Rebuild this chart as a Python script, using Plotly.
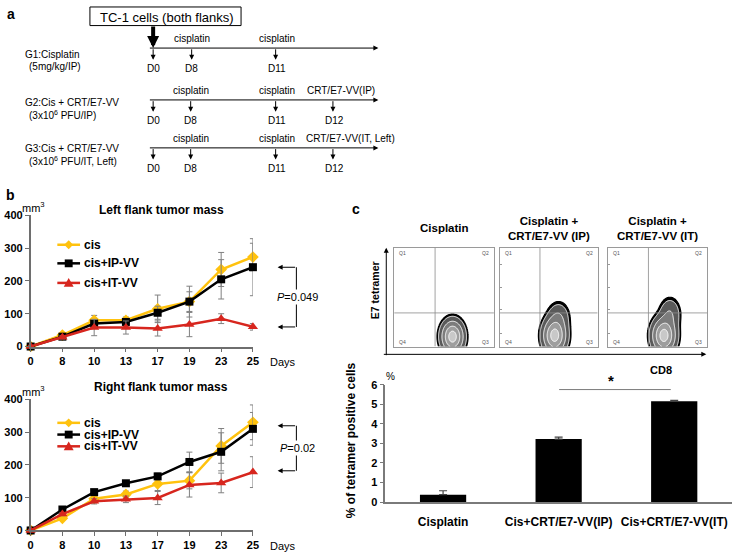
import numpy as np
import plotly.graph_objects as go

W, H = 738, 558
FONT = "Liberation Sans, Arial, sans-serif"

# ---------------- data ----------------
days = ["0", "8", "10", "13", "17", "19", "23", "25"]
series_names = ["cis", "cis+IP-VV", "cis+IT-VV"]
series_colors = ["#FFC20E", "#000000", "#D7261E"]
series_symbols = ["diamond", "square", "triangle-up"]

cis_left = [0, 35, 80, 80, 115, 137, 235, 273]
ip_left = [0, 30, 70, 75, 103, 137, 205, 242]
it_left = [0, 28, 58, 58, 55, 67, 85, 60]
cis_left_err = [0, 5, 15, 10, 42, 30, 52, 42]
ip_left_err = [0, 5, 10, 10, 20, 47, 60, 87]
it_left_err = [0, 5, 25, 20, 23, 37, 15, 10]

cis_right = [0, 37, 97, 110, 142, 152, 258, 330]
ip_right = [0, 64, 117, 144, 165, 209, 240, 310]
it_right = [0, 50, 89, 95, 99, 139, 145, 178]
cis_right_err = [0, 5, 8, 10, 20, 25, 53, 53]
ip_right_err = [0, 5, 8, 8, 10, 30, 58, 50]
it_right_err = [0, 5, 8, 10, 20, 37, 30, 47]

bar_cats = ["Cisplatin", "Cis+CRT/E7-VV(IP)", "Cis+CRT/E7-VV(IT)"]
bar_vals = [0.38, 3.22, 5.15]
bar_err = [0.2, 0.1, 0.05]

flow_titles = ["Cisplatin", "Cisplatin +<br>CRT/E7-VV (IP)", "Cisplatin +<br>CRT/E7-VV (IT)"]
# blob parameters per panel: main (cx, cy, sx, sy), tail (cx, cy, sx, sy, amp)
flow_main = [(0.585, 0.10, 0.06, 0.088), (0.56, 0.11, 0.064, 0.095), (0.565, 0.11, 0.064, 0.095)]
flow_tail = [(0.6, 0.2, 0.05, 0.05, 0.0), (0.60, 0.30, 0.062, 0.085, 0.18), (0.625, 0.33, 0.058, 0.09, 0.2)]
gate_x, gate_y = 0.41, 0.34

# ---------------- helpers ----------------
def X(px):
    return px / W

def Y(py):
    return 1 - py / H

annotations = []
shapes = []

def text(px, py, s, size=10, bold=False, xanchor="center", yanchor="middle", angle=0, color="#000", bg=None):
    d = dict(x=X(px), y=Y(py), xref="paper", yref="paper", text=s, showarrow=False,
             xanchor=xanchor, yanchor=yanchor, textangle=angle,
             font=dict(family=FONT, size=size, color=color, weight=700 if bold else 400))
    if bg:
        d["bgcolor"] = bg
    annotations.append(d)

def arrow(x0, y0, x1, y1, width=1, head=2, size=1.0, color="#000"):
    # arrow from (x0,y0) tail to (x1,y1) head, in pixels
    annotations.append(dict(x=X(x1), y=Y(y1), xref="paper", yref="paper", text="",
                            showarrow=True, ax=x0 - x1, ay=y0 - y1, axref="pixel", ayref="pixel",
                            arrowhead=head, arrowsize=size, arrowwidth=width, arrowcolor=color,
                            standoff=0, startstandoff=0))

def line(x0, y0, x1, y1, color="#000", width=1):
    shapes.append(dict(type="line", xref="paper", yref="paper", x0=X(x0), y0=Y(y0), x1=X(x1), y1=Y(y1),
                       line=dict(color=color, width=width)))

# ---------------- panel a ----------------
text(8, 8, "a", size=14, bold=True)
shapes.append(dict(type="rect", xref="paper", yref="paper", x0=X(88), y0=Y(20), x1=X(241), y1=Y(1),
                   line=dict(color="#000", width=1), fillcolor="white"))
text(166, 12, "TC-1 cells (both flanks)", size=13)
arrow(152, 20, 152, 43, width=4, head=2, size=0.6)

rows = [
    dict(y=43, label1="G1:Cisplatin", label2="(5mg/kg/IP)", marks=[152, 191, 276],
         above=[(191, "cisplatin"), (277, "cisplatin")], dl=[(152, "D0"), (191, "D8"), (277, "D11")], ly=50),
    dict(y=96, label1="G2:Cis + CRT/E7-VV", label2="(3x10<sup>6</sup> PFU/IP)", marks=[152, 190, 276, 334],
         above=[(190, "cisplatin"), (277, "cisplatin"), (342, "CRT/E7-VV(IP)")],
         dl=[(152, "D0"), (190, "D8"), (277, "D11"), (336, "D12")], ly=99),
    dict(y=145, label1="G3:Cis + CRT/E7-VV", label2="(3x10<sup>6</sup> PFU/IT, Left)", marks=[152, 190, 276, 334],
         above=[(190, "cisplatin"), (277, "cisplatin"), (352, "CRT/E7-VV(IT, Left)")],
         dl=[(152, "D0"), (190, "D8"), (277, "D11"), (336, "D12")], ly=146),
]
for r in rows:
    y0 = r["y"]
    arrow(150, y0, 380, y0, width=1, head=2, size=1.0)
    for mx in r["marks"]:
        arrow(mx, y0, mx, y0 + 12, width=1, head=2, size=1.0)
    for ax_, s in r["above"]:
        text(ax_, y0 - 10, s, size=10)
    for dx, s in r["dl"]:
        text(dx, y0 + 21, s, size=10)
    text(20, r["ly"], r["label1"], size=10, xanchor="left")
    text(24, r["ly"] + 12, r["label2"], size=10, xanchor="left")

# ---------------- panel b ----------------
text(8, 193, "b", size=14, bold=True)

fig = go.Figure()

line_panels = [
    dict(xa="x", ya="y", ytop=214, ybot=348, title="Left flank tumor mass", ty=208,
         vals=[cis_left, ip_left, it_left], errs=[cis_left_err, ip_left_err, it_left_err],
         leg_y=[244, 263, 283], p=("0.049", 267, 328)),
    dict(xa="x2", ya="y2", ytop=402, ybot=536, title="Right flank tumor mass", ty=389,
         vals=[cis_right, ip_right, it_right], errs=[cis_right_err, ip_right_err, it_right_err],
         leg_y=[426, 438, 450], p=("0.02", 429, 475)),
]
xidx = list(range(len(days)))
for pnl in line_panels:
    for name, col, sym, v, e in zip(series_names, series_colors, series_symbols, pnl["vals"], pnl["errs"]):
        fig.add_trace(go.Scatter(
            x=xidx, y=v, xaxis=pnl["xa"], yaxis=pnl["ya"], mode="lines+markers", name=name,
            line=dict(color=col, width=2.5),
            marker=dict(symbol=sym, size=9 if sym != "square" else 8, color=col),
            error_y=dict(type="data", array=e, color="#808080", thickness=1, width=3),
            cliponaxis=False, showlegend=False, hoverinfo="skip"))
    text(160, pnl["ty"], pnl["title"], size=12, bold=True)
    text(31, pnl["ytop"] - 9, "mm<sup>3</sup>", size=11)
    text(268, pnl["ybot"] + 16, "Days", size=11, xanchor="left")
    # manual legend
    for name, col, sym, ly in zip(series_names, series_colors, series_symbols, pnl["leg_y"]):
        line(55, ly, 78, ly, color=col, width=2.5)
        cx = 66.5
        if sym == "square":
            shapes.append(dict(type="rect", xref="paper", yref="paper", x0=X(cx - 4), x1=X(cx + 4),
                               y0=Y(ly + 4), y1=Y(ly - 4), fillcolor=col, line=dict(width=0)))
        elif sym == "diamond":
            path = f"M {X(cx)} {Y(ly-4.5)} L {X(cx+4.5)} {Y(ly)} L {X(cx)} {Y(ly+4.5)} L {X(cx-4.5)} {Y(ly)} Z"
            shapes.append(dict(type="path", xref="paper", yref="paper", path=path, fillcolor=col, line=dict(width=0)))
        else:
            path = f"M {X(cx)} {Y(ly-5)} L {X(cx+5)} {Y(ly+4)} L {X(cx-5)} {Y(ly+4)} Z"
            shapes.append(dict(type="path", xref="paper", yref="paper", path=path, fillcolor=col, line=dict(width=0)))
        text(80, ly, name, size=12, bold=True, xanchor="left")
    # p-value bracket
    pv, ya, yb = pnl["p"]
    line(297, ya, 297, yb, color="#000", width=1)
    arrow(297, ya, 278, ya, width=1, head=2, size=1.0)
    arrow(297, yb, 278, yb, width=1, head=2, size=1.0)
    text(298, (ya + yb) / 2, f"<i>P</i>=" + pv, size=11, bg="white")

axis_common = dict(showline=True, linecolor="#6e6e6e", linewidth=1.5, ticks="outside", ticklen=4,
                   tickcolor="#6e6e6e", showgrid=False, zeroline=False,
                   tickfont=dict(family=FONT, size=11, color="#000", weight=700))
for i, pnl in enumerate(line_panels):
    xk = "xaxis" if i == 0 else "xaxis2"
    yk = "yaxis" if i == 0 else "yaxis2"
    fig.layout[xk] = dict(axis_common, domain=[X(28), X(253)], range=[0, 7], tickvals=xidx, ticktext=days,
                          anchor=pnl["ya"], fixedrange=True)
    fig.layout[yk] = dict(axis_common, domain=[Y(pnl["ybot"]), Y(pnl["ytop"])], range=[0, 400],
                          tickvals=[0, 100, 200, 300, 400], anchor=pnl["xa"], fixedrange=True)

# ---------------- panel c ----------------
text(357, 207, "c", size=14, bold=True)

flow_boxes = [(396, 497), (503, 602), (612, 713)]
fy_top, fy_bot = 247, 348
gx = np.linspace(0, 1, 201)
gy = np.linspace(0, 1, 201)
GX, GY = np.meshgrid(gx, gy)
n_inner = 4
inner_step = 0.19
inner_cs = [[0, "rgba(255,255,255,0)"], [0.5 / n_inner, "rgba(255,255,255,0)"],
            [0.5 / n_inner + 0.001, "#5a5a5a"], [1 / n_inner, "#5a5a5a"], [2 / n_inner, "#7c7c7c"],
            [3 / n_inner, "#9e9e9e"], [1, "#c8c8c8"]]
for k, ((x0, x1), title) in enumerate(zip(flow_boxes, flow_titles)):
    xa = f"x{k+4}"
    ya = f"y{k+4}"
    cx, cy, sx, sy = flow_main[k]
    tx, ty, tsx, tsy, amp = flow_tail[k]
    Z = np.exp(-((GX - cx) ** 2 / (2 * sx ** 2) + (GY - cy) ** 2 / (2 * sy ** 2)))
    Z = Z + amp * np.exp(-((GX - tx) ** 2 / (2 * tsx ** 2) + (GY - ty) ** 2 / (2 * tsy ** 2)))
    Z = Z / Z.max()
    # density expressed as a radius-like level (evenly spaced contour rings)
    R = 1 - np.sqrt(2 * np.log(1 / np.clip(Z, 1e-9, 1))) / 3
    R = np.clip(R, 0, 1)
    # black outer population
    fig.add_trace(go.Contour(
        x=gx, y=gy, z=R, xaxis=xa, yaxis=ya, showscale=False, hoverinfo="skip",
        contours=dict(start=0.135, end=0.135, size=0.5, coloring="fill"),
        colorscale=[[0, "white"], [0.4, "white"], [0.6, "#000"], [1, "#000"]],
        line=dict(color="#000", width=1.2)))
    # graded inner contours
    fig.add_trace(go.Contour(
        x=gx, y=gy, z=R, xaxis=xa, yaxis=ya, showscale=False, hoverinfo="skip",
        contours=dict(start=0.22, end=0.22 + inner_step * (n_inner - 1), size=inner_step, coloring="fill"),
        colorscale=inner_cs,
        line=dict(color="white", width=1)))
    fig.layout[f"xaxis{k+4}"] = dict(domain=[X(x0), X(x1)], range=[0, 1], showline=True, mirror=True,
                                     linecolor="#9a9a9a", linewidth=1, showticklabels=False, ticks="",
                                     showgrid=False, zeroline=False, anchor=ya, fixedrange=True)
    yax = dict(domain=[Y(fy_bot), Y(fy_top)], range=[0, 1], showline=True, mirror=True,
               linecolor="#9a9a9a", linewidth=1, showticklabels=False,
               showgrid=False, zeroline=False, anchor=xa, fixedrange=True)
    if k > 0:
        yax.update(ticks="inside", ticklen=2, tickcolor="#999", tickvals=[0.13, 0.37, 0.6, 0.83])
    else:
        yax.update(ticks="")
    fig.layout[f"yaxis{k+4}"] = yax
    shapes.append(dict(type="line", xref=xa, yref=ya, x0=gate_x, x1=gate_x, y0=0, y1=1,
                       line=dict(color="#8c8c8c", width=0.8)))
    shapes.append(dict(type="line", xref=xa, yref=ya, x0=0, x1=1, y0=gate_y, y1=gate_y,
                       line=dict(color="#8c8c8c", width=0.8)))
    for qx, qy, q, xan in [(0.03, 0.95, "Q1", "left"), (0.97, 0.95, "Q2", "right"),
                           (0.03, 0.05, "Q4", "left"), (0.97, 0.05, "Q3", "right")]:
        annotations.append(dict(x=qx, y=qy, xref=f"{xa} domain", yref=f"{ya} domain", text=q,
                                showarrow=False, xanchor=xan, yanchor="middle",
                                font=dict(family=FONT, size=5, color="#555")))
    text((x0 + x1) / 2, 227, title, size=11.5, bold=True)

arrow(388, 356, 388, 247, width=1, head=2, size=1.0)
arrow(388, 356, 712, 356, width=1, head=2, size=1.0)
text(376, 290, "E7 tetramer", size=10.5, bold=True, angle=-90)
text(666, 372, "CD8", size=11, bold=True)

# bar chart
fig.add_trace(go.Bar(
    x=bar_cats, y=bar_vals, xaxis="x3", yaxis="y3", marker=dict(color="#000", line=dict(width=0)),
    width=0.4, showlegend=False, hoverinfo="skip",
    error_y=dict(type="data", symmetric=False, array=bar_err, arrayminus=[0, 0, 0],
                 color="#444", thickness=1.2, width=4)))
fig.layout["xaxis3"] = dict(domain=[X(387), X(738)], type="category", showline=True, linecolor="#7a7a7a",
                            linewidth=1.5, ticks="", showgrid=False, zeroline=False, anchor="y3",
                            tickfont=dict(family=FONT, size=12, color="#000", weight=700),
                            ticklabelstandoff=8, fixedrange=True)
fig.layout["yaxis3"] = dict(domain=[Y(507), Y(387)], range=[0, 6], dtick=1, showline=True,
                            linecolor="#7a7a7a", linewidth=1.5, ticks="outside", ticklen=4,
                            tickcolor="#7a7a7a", showgrid=False, zeroline=False, anchor="x3",
                            tickfont=dict(family=FONT, size=11, color="#000", weight=700), fixedrange=True)
text(392, 379, "%", size=10)
line(563, 392, 676, 392, color="#7a7a7a", width=1)
text(615, 383, "*", size=15, bold=True)
text(353, 444, "% of tetramer positive cells", size=12, bold=True, angle=-90)

fig.update_layout(width=W, height=H, margin=dict(l=0, r=0, t=0, b=0), paper_bgcolor="white",
                  plot_bgcolor="rgba(0,0,0,0)", showlegend=False, annotations=annotations, shapes=shapes,
                  font=dict(family=FONT, color="#000"))
fig.write_html("out.html", config={"displayModeBar": False},
               post_script="document.body.style.margin='0px';document.body.style.overflow='hidden';")
